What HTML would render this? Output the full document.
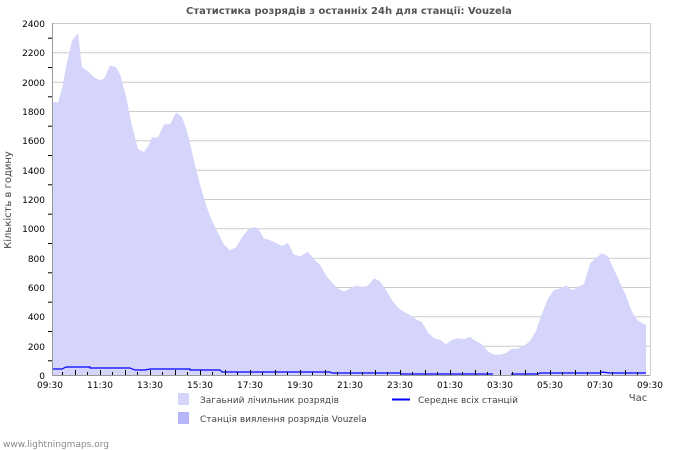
<!DOCTYPE html>
<html><head><meta charset="utf-8"><style>
html,body{margin:0;padding:0;background:#fff;}
svg{display:block;font-family:"DejaVu Sans","Liberation Sans",sans-serif;}
</style></head><body>
<svg width="700" height="450" viewBox="0 0 700 450" xmlns="http://www.w3.org/2000/svg">
<rect width="700" height="450" fill="#fff"/>
<text x="349" y="14" text-anchor="middle" font-size="10" font-weight="bold" fill="#555">Статистика розрядів з останніх 24h для станції: Vouzela</text>
<g stroke="#cccccc" stroke-width="1">
<line x1="52" y1="23.5" x2="650" y2="23.5"/>
<line x1="52" y1="52.8" x2="650" y2="52.8"/>
<line x1="52" y1="82.2" x2="650" y2="82.2"/>
<line x1="52" y1="111.5" x2="650" y2="111.5"/>
<line x1="52" y1="140.8" x2="650" y2="140.8"/>
<line x1="52" y1="170.2" x2="650" y2="170.2"/>
<line x1="52" y1="199.5" x2="650" y2="199.5"/>
<line x1="52" y1="228.8" x2="650" y2="228.8"/>
<line x1="52" y1="258.2" x2="650" y2="258.2"/>
<line x1="52" y1="287.5" x2="650" y2="287.5"/>
<line x1="52" y1="316.8" x2="650" y2="316.8"/>
<line x1="52" y1="346.2" x2="650" y2="346.2"/>
<line x1="650.5" y1="23" x2="650.5" y2="375"/>
</g>
<polygon fill="#d5d5fb" points="52,375 52,102.2 58,102.2 62,89 66,67 72,40.6 78,33.3 82,67 88,71.4 94,77.3 100,80.2 104,78.7 110,65.5 116,67 120,74.3 126,96.3 132,125.7 138,149.1 144,152.1 148,146.2 152,137.4 158,137.4 164,124.2 170,124.2 176,112.5 182,116.9 188,134.5 194,160.9 200,184.3 206,204.9 212,221 218,232.7 224,244.5 230,250.3 236,247.4 242,237.1 248,229.8 254,226.9 258,228.3 264,238.6 270,240.1 276,243 282,245.9 288,243 294,254.7 300,256.2 308,251.8 314,259.1 320,265 326,275.3 332,282.6 338,288.5 344,291.4 350,288.5 356,285.5 362,287 368,285.5 374,278.2 380,281.1 386,289.9 392,300.2 398,307.5 404,311.9 410,314.9 416,319.3 422,322.2 428,332.5 434,338.3 440,339.8 446,344.2 452,339.8 458,338.3 464,339.1 470,336.9 476,341.3 482,344.2 488,351.5 494,354.5 500,354.5 506,353 512,348.6 518,348.6 524,345.7 530,341.3 536,331 542,313.4 548,298.7 554,290 560,288.5 566,285.5 572,290 578,287 584,284.1 590,263.5 596,257.7 602,253.3 608,256.2 614,269.4 620,282.6 626,295.8 632,311.9 638,320.7 646,325 646,375"/>
<polyline fill="none" stroke="#0000ff" stroke-width="1.2" points="52,369 62,369 66,367 90,367 90,368 130,368 135,370 145,370 150,369 190,369 190,370 220,370 222,372 330,372 332,373 400,373 402,374 493,374"/>
<polyline fill="none" stroke="#0000ff" stroke-width="1.2" points="511,374 538,374 540,373 600,373 602,372 610,373 646,373"/>
<g stroke="#000" stroke-width="1">
<line x1="52.5" y1="23" x2="52.5" y2="375" stroke="#999"/>
<line x1="52" y1="375.5" x2="650" y2="375.5" stroke="#999"/>
<line x1="48" y1="38.2" x2="52" y2="38.2"/><line x1="48" y1="67.5" x2="52" y2="67.5"/><line x1="48" y1="96.8" x2="52" y2="96.8"/><line x1="48" y1="126.2" x2="52" y2="126.2"/><line x1="48" y1="155.5" x2="52" y2="155.5"/><line x1="48" y1="184.8" x2="52" y2="184.8"/><line x1="48" y1="214.2" x2="52" y2="214.2"/><line x1="48" y1="243.5" x2="52" y2="243.5"/><line x1="48" y1="272.8" x2="52" y2="272.8"/><line x1="48" y1="302.2" x2="52" y2="302.2"/><line x1="48" y1="331.5" x2="52" y2="331.5"/><line x1="48" y1="360.8" x2="52" y2="360.8"/>
</g>
<g stroke="#000" stroke-width="1">
<line x1="62.5" y1="372" x2="62.5" y2="375"/><line x1="75.5" y1="370" x2="75.5" y2="375"/><line x1="87.5" y1="372" x2="87.5" y2="375"/><line x1="100.5" y1="370" x2="100.5" y2="375"/><line x1="112.5" y1="372" x2="112.5" y2="375"/><line x1="125.5" y1="370" x2="125.5" y2="375"/><line x1="137.5" y1="372" x2="137.5" y2="375"/><line x1="150.5" y1="370" x2="150.5" y2="375"/><line x1="162.5" y1="372" x2="162.5" y2="375"/><line x1="175.5" y1="370" x2="175.5" y2="375"/><line x1="187.5" y1="372" x2="187.5" y2="375"/><line x1="200.5" y1="370" x2="200.5" y2="375"/><line x1="212.5" y1="372" x2="212.5" y2="375"/><line x1="225.5" y1="370" x2="225.5" y2="375"/><line x1="237.5" y1="372" x2="237.5" y2="375"/><line x1="250.5" y1="370" x2="250.5" y2="375"/><line x1="262.5" y1="372" x2="262.5" y2="375"/><line x1="275.5" y1="370" x2="275.5" y2="375"/><line x1="287.5" y1="372" x2="287.5" y2="375"/><line x1="300.5" y1="370" x2="300.5" y2="375"/><line x1="312.5" y1="372" x2="312.5" y2="375"/><line x1="325.5" y1="370" x2="325.5" y2="375"/><line x1="337.5" y1="372" x2="337.5" y2="375"/><line x1="350.5" y1="370" x2="350.5" y2="375"/><line x1="362.5" y1="372" x2="362.5" y2="375"/><line x1="375.5" y1="370" x2="375.5" y2="375"/><line x1="387.5" y1="372" x2="387.5" y2="375"/><line x1="400.5" y1="370" x2="400.5" y2="375"/><line x1="412.5" y1="372" x2="412.5" y2="375"/><line x1="425.5" y1="370" x2="425.5" y2="375"/><line x1="437.5" y1="372" x2="437.5" y2="375"/><line x1="450.5" y1="370" x2="450.5" y2="375"/><line x1="462.5" y1="372" x2="462.5" y2="375"/><line x1="475.5" y1="370" x2="475.5" y2="375"/><line x1="487.5" y1="372" x2="487.5" y2="375"/><line x1="500.5" y1="370" x2="500.5" y2="375"/><line x1="512.5" y1="372" x2="512.5" y2="375"/><line x1="525.5" y1="370" x2="525.5" y2="375"/><line x1="537.5" y1="372" x2="537.5" y2="375"/><line x1="550.5" y1="370" x2="550.5" y2="375"/><line x1="562.5" y1="372" x2="562.5" y2="375"/><line x1="575.5" y1="370" x2="575.5" y2="375"/><line x1="587.5" y1="372" x2="587.5" y2="375"/><line x1="600.5" y1="370" x2="600.5" y2="375"/><line x1="612.5" y1="372" x2="612.5" y2="375"/><line x1="625.5" y1="370" x2="625.5" y2="375"/><line x1="637.5" y1="372" x2="637.5" y2="375"/>
</g>
<g font-size="9" fill="#000" text-anchor="end">
<text x="45" y="27">2400</text><text x="45" y="56">2200</text><text x="45" y="86">2000</text><text x="45" y="115">1800</text><text x="45" y="144">1600</text><text x="45" y="174">1400</text><text x="45" y="203">1200</text><text x="45" y="232">1000</text><text x="45" y="262">800</text><text x="45" y="291">600</text><text x="45" y="320">400</text><text x="45" y="350">200</text><text x="45" y="379">0</text>
</g>
<g font-size="9" fill="#000" text-anchor="middle">
<text x="50" y="388">09:30</text><text x="100" y="388">11:30</text><text x="150" y="388">13:30</text><text x="200" y="388">15:30</text><text x="250" y="388">17:30</text><text x="300" y="388">19:30</text><text x="350" y="388">21:30</text><text x="400" y="388">23:30</text><text x="450" y="388">01:30</text><text x="500" y="388">03:30</text><text x="550" y="388">05:30</text><text x="600" y="388">07:30</text><text x="650" y="388">09:30</text>
</g>
<text x="638" y="401" font-size="10" fill="#444" text-anchor="middle">Час</text>
<text transform="translate(11,200) rotate(-90)" font-size="10" fill="#444" text-anchor="middle">Кількість в годину</text>
<rect x="178" y="393" width="11" height="12" fill="#d5d5fb"/>
<text x="200" y="403" font-size="9" fill="#444">Загаьний лічильник розрядів</text>
<rect x="178" y="412" width="11" height="12" fill="#b5b5f7"/>
<text x="200" y="422" font-size="9" fill="#444">Станція виялення розрядів Vouzela</text>
<line x1="392" y1="399.5" x2="410" y2="399.5" stroke="#0000ff" stroke-width="2"/>
<text x="418" y="403" font-size="9" fill="#444">Середнє всіх станцій</text>
<text x="3" y="447" font-size="9" fill="#888">www.lightningmaps.org</text>
</svg>
</body></html>
